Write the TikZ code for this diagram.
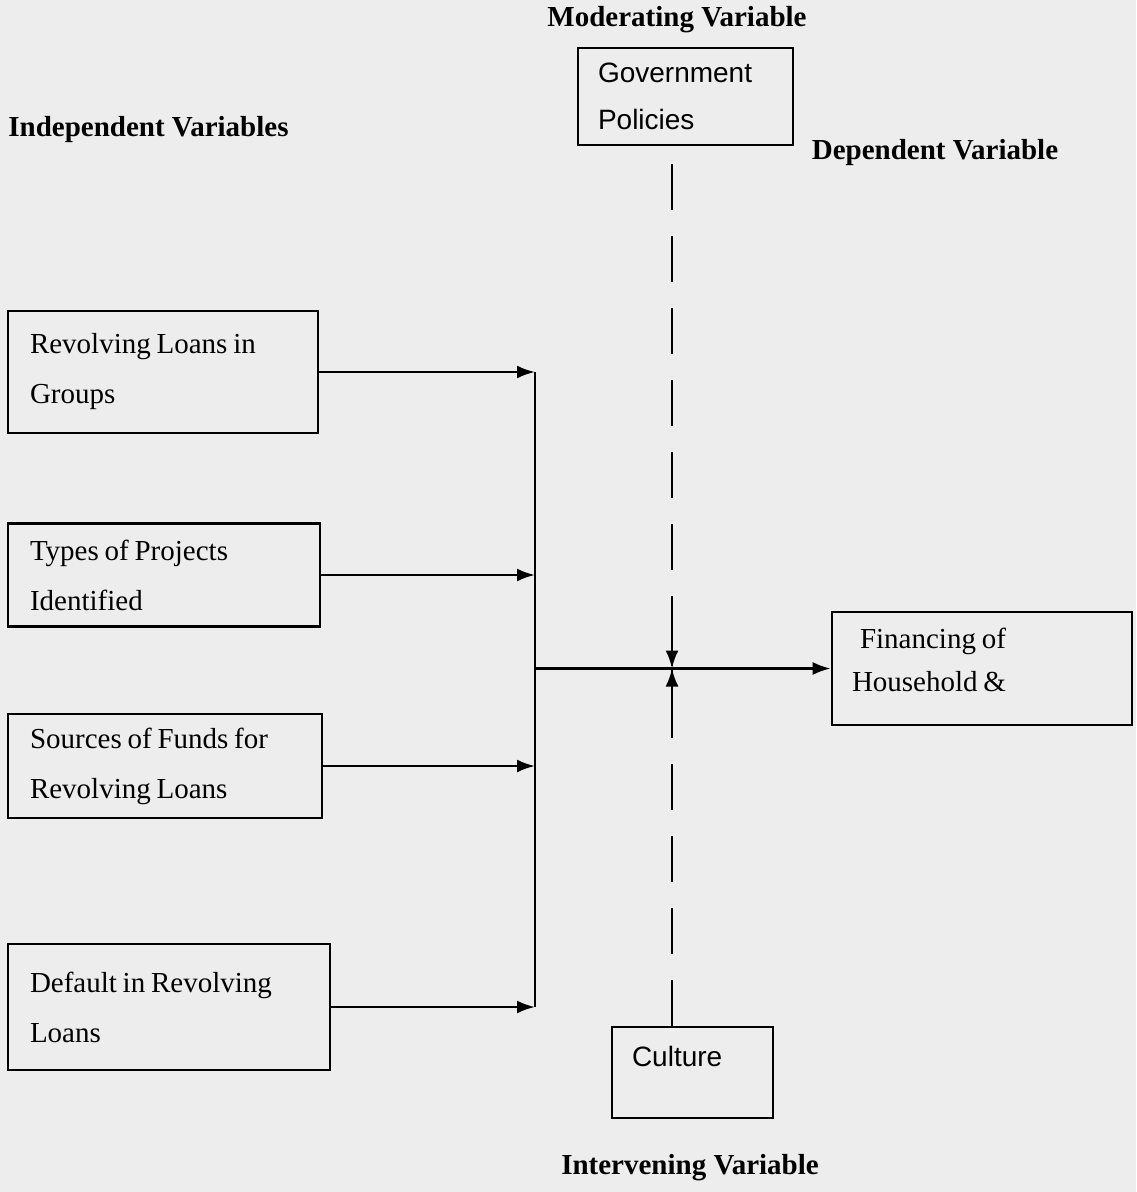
\documentclass[tikz,border=0pt]{standalone}
\usepackage{fontspec}
\setmainfont{Liberation Serif}
\newfontfamily\boxsans{Liberation Sans}
\usepackage{tikz}
\usetikzlibrary{arrows.meta, positioning}
\newcommand{\tightwords}{\spaceskip=0.2em\relax}

\begin{document}
\begin{tikzpicture}[x=0.5pt, y=-0.5pt,
    varbox/.style={draw, line width=1.3pt, inner sep=0pt, align=left, font={\fontsize{14.5}{25}\selectfont}},
    heading/.style={font=\fontsize{14.5}{16}\selectfont\bfseries},
    arr/.style={line width=1.3pt, -{Latex[length=9pt, width=6.5pt]}},
    modline/.style={line width=1.3pt, dash pattern=on 23pt off 13pt}]
    % Page
    \fill[white!93!black] (0, 0) rectangle (1136, 1192);
    \useasboundingbox (0, 0) rectangle (1136, 1192);

    % Headings
    \node[heading] (hmod) at (677, 20) {Moderating Variable};
    \node[heading, anchor=west, inner xsep=0pt] (hind) at (8, 130) {Independent Variables};
    \node[heading] (hdep) at (935, 153) {Dependent Variable};
    \node[heading] (hint) at (690, 1168) {Intervening Variable};

    % Independent variables
    \node[varbox, minimum width=155pt, minimum height=61pt, text width=133pt] (rlg) at (163, 372) {\tightwords Revolving Loans in\\Groups};
    \node[varbox, minimum width=156pt, minimum height=51.5pt, text width=134pt] (tpi) at (164, 575) {\tightwords Types of Projects\\Identified};
    \node[varbox, minimum width=157pt, minimum height=52pt, text width=135pt] (sfr) at (165, 766) {\tightwords Sources of Funds for\\Revolving Loans};
    \node[varbox, minimum width=161pt, minimum height=63pt, text width=139pt] (dfl) at (169, 1007) {\tightwords Default in Revolving\\Loans};

    % Moderating, intervening and dependent variables
    \node[varbox, font={\boxsans\fontsize{14}{23.5}\selectfont}, minimum width=107.5pt, minimum height=48.5pt, text width=87.5pt] (gov) at (685.5, 96.5) {Government\\Policies};
    \node[varbox, font={\boxsans\fontsize{14}{16.5}\selectfont}, minimum width=80.5pt, minimum height=45.5pt, text width=60.5pt] (cul) at (692.5, 1072.5) {Culture\\\mbox{}};
    \node[varbox, minimum width=150pt, minimum height=56.5pt, text width=130pt, font={\fontsize{14.5}{21.5}\selectfont}] (fin) at (982, 668.5) {\tightwords\hspace{4pt}Financing of\\Household \&\\[-13pt]\mbox{}};

    % Bus
    \coordinate (bus) at (535, 0);
    \coordinate (mid) at (672, 0);
    \draw[line width=1.3pt] (rlg.east -| bus) -- (dfl.east -| bus);
    \foreach \v in {rlg, tpi, sfr, dfl}
        \draw[arr] (\v.east) -- (\v.east -| bus);
    \draw[line width=1.3pt] (fin.west -| bus) -- (fin.west -| mid);
    \draw[arr] (fin.west -| mid) -- (fin.west);

    % Moderating and intervening links
    \draw[modline] ([yshift=-9pt]gov.south -| mid) -- ([yshift=-20pt]fin.west -| mid);
    \draw[arr] ([yshift=-12pt]fin.west -| mid) -- (fin.west -| mid);
    \draw[modline] (cul.north -| mid) -- ([yshift=18pt]fin.west -| mid);
    \draw[arr] ([yshift=12pt]fin.west -| mid) -- (fin.west -| mid);
\end{tikzpicture}
\end{document}
